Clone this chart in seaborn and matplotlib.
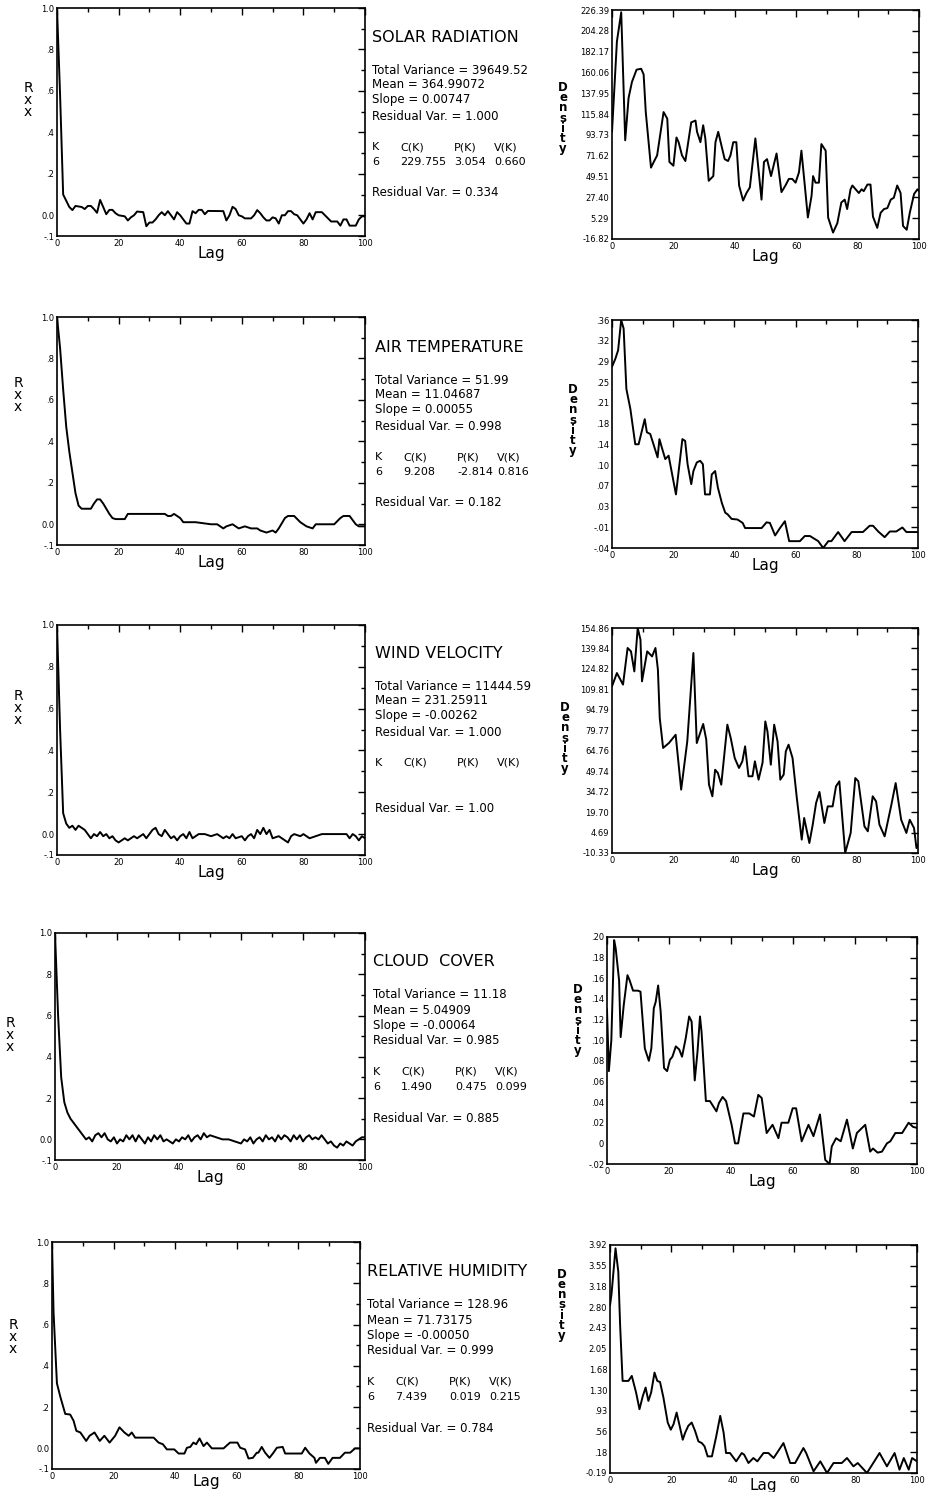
import matplotlib
matplotlib.use("Agg")
import matplotlib.pyplot as plt
from matplotlib.ticker import MultipleLocator, FixedLocator
import seaborn as sns
import pandas as pd
import numpy as np

W, H = 927, 1492

# ---- values: (lag, value) ----
solar_acf = [(0, 1.0), (1, 0.58), (2, 0.10), (3, 0.07), (4, 0.04), (5, 0.025), (6, 0.045), (8, 0.04),
             (9, 0.03), (10, 0.045), (11, 0.045), (12, 0.03), (13, 0.012), (14, 0.074), (15, 0.04),
             (16, 0.005), (17, 0.026), (18, 0.026), (19, 0.01), (20, 0.0), (22, -0.005), (23, -0.025),
             (24, -0.01), (25, 0.0), (26, 0.018), (28, 0.015), (29, -0.053), (30, -0.035), (31, -0.035),
             (32, -0.02), (33, 0.0), (34, 0.015), (35, 0.0), (36, 0.02), (37, 0.0), (38, -0.02),
             (39, 0.015), (40, 0.0), (41, -0.02), (42, -0.04), (43, -0.04), (44, 0.02), (45, 0.01),
             (46, 0.026), (47, 0.026), (48, 0.005), (49, 0.021), (54, 0.02), (55, -0.025), (56, 0.0),
             (57, 0.041), (58, 0.03), (59, 0.0), (60, -0.005), (61, -0.015), (63, -0.015), (64, 0.0),
             (65, 0.025), (66, 0.01), (67, -0.01), (68, -0.025), (69, -0.025), (70, -0.01), (71, -0.015),
             (72, -0.04), (73, 0.0), (74, 0.0), (75, 0.02), (76, 0.02), (77, 0.005), (78, 0.0),
             (79, -0.02), (80, -0.04), (81, -0.02), (82, 0.01), (83, -0.02), (84, 0.015), (86, 0.015),
             (87, 0.0), (88, -0.015), (89, -0.03), (91, -0.03), (92, -0.05), (93, -0.02), (94, -0.02),
             (95, -0.05), (97, -0.05), (98, -0.02), (99, -0.005), (100, -0.005)]

solar_dens = [(0, 97), (1.6, 193), (3, 224), (4.3, 88), (5.4, 133), (6.5, 150), (8, 163), (9.5, 164),
              (10.3, 158), (11, 118), (12.7, 59), (13.6, 65), (14.7, 72), (16.8, 118), (18, 111),
              (18.7, 65), (20, 61), (21, 91), (21.7, 86), (22.8, 72), (23.9, 66), (25.8, 107),
              (27.2, 109), (27.7, 97), (28.8, 86), (29.7, 104), (30.4, 90), (31.5, 45), (33, 50),
              (33.7, 86), (34.6, 97), (35.9, 79), (36.7, 68), (37.8, 66), (38.6, 72), (39.5, 86),
              (40.5, 86), (41.4, 40), (42.7, 24), (43.8, 32), (44.9, 38), (46.7, 90), (48.7, 25),
              (49.5, 65), (50.5, 68), (51.8, 50), (53.6, 74), (55.2, 33), (56.5, 40), (57.6, 47),
              (58.7, 47), (59.8, 43), (60.9, 54), (61.7, 77), (62.8, 40), (63.8, 6), (65, 29),
              (65.5, 50), (66.3, 43), (67.4, 43), (68.2, 84), (69.6, 77), (70.4, 6), (72, -10),
              (73.4, 0), (74.7, 22), (75.8, 25), (76.6, 15), (77.7, 36), (78.3, 40), (80.4, 32),
              (81.3, 36), (82, 34), (83.2, 41), (84.2, 41), (85, 7), (86.4, -5), (87.5, 11),
              (88.6, 15), (89.7, 16), (90.8, 25), (91.8, 27), (92.9, 40), (94, 32), (94.8, -3),
              (96, -7), (97, 11), (98.4, 31), (99.5, 36), (100, 34)]

air_acf = [(0, 1.0), (1, 0.85), (2, 0.65), (3, 0.47), (4, 0.35), (5, 0.25), (6, 0.15), (7, 0.09),
           (8, 0.075), (11, 0.075), (12, 0.1), (13, 0.12), (14, 0.12), (15, 0.1), (17, 0.05),
           (18, 0.03), (19, 0.025), (22, 0.025), (23, 0.05), (35, 0.05), (36, 0.04), (37, 0.04),
           (38, 0.05), (40, 0.03), (41, 0.01), (45, 0.01), (50, 0.0), (52, 0.0), (54, -0.02),
           (55, -0.01), (57, 0.0), (59, -0.02), (61, -0.01), (63, -0.02), (65, -0.02), (66, -0.03),
           (68, -0.04), (70, -0.03), (71, -0.04), (72, -0.02), (74, 0.03), (75, 0.04), (77, 0.04),
           (79, 0.01), (81, -0.01), (83, -0.02), (84, 0.0), (90, 0.0), (92, 0.03), (93, 0.04),
           (95, 0.04), (96, 0.02), (97, 0.0), (98, -0.01), (100, -0.01)]

air_dens = [(0, 0.278), (1.1, 0.292), (2, 0.307), (3, 0.36), (3.8, 0.345), (4.7, 0.239), (6, 0.204),
            (7.6, 0.142), (8.7, 0.142), (10.7, 0.186), (11.4, 0.163), (12.5, 0.16), (14.9, 0.119),
            (15.5, 0.151), (16.3, 0.136), (17.4, 0.116), (18.5, 0.122), (20.9, 0.054), (23, 0.151),
            (23.9, 0.148), (24.7, 0.107), (25.9, 0.072), (26.6, 0.095), (27.7, 0.11), (28.8, 0.113),
            (29.7, 0.107), (30.4, 0.054), (32, 0.054), (32.6, 0.089), (33.7, 0.095), (34.6, 0.066),
            (35.9, 0.039), (37, 0.022), (37.8, 0.019), (39.1, 0.011), (41, 0.01), (42.7, 0.004),
            (43.5, -0.005), (48.9, -0.005), (50.5, 0.005), (51.6, 0.004), (53.3, -0.018),
            (54.9, -0.005), (56.5, 0.007), (57.9, -0.028), (61.4, -0.028), (63, -0.019),
            (64.7, -0.019), (67.4, -0.028), (69, -0.04), (70.7, -0.028), (71.7, -0.028),
            (73.9, -0.012), (76, -0.028), (78.3, -0.012), (82, -0.012), (84.2, -0.001),
            (85.3, -0.001), (87, -0.011), (89.1, -0.021), (90.8, -0.011), (92.9, -0.011),
            (94.9, -0.004), (96.2, -0.012), (100, -0.012)]

wind_acf = [(0, 1.0), (1, 0.5), (2, 0.1), (3, 0.05), (4, 0.03), (5, 0.04), (6, 0.02), (7, 0.04),
            (8, 0.03), (9, 0.02), (10, 0.0), (11, -0.02), (12, 0.0), (13, -0.01), (14, 0.01),
            (15, -0.01), (16, 0.0), (17, -0.02), (18, -0.01), (19, -0.03), (20, -0.04), (21, -0.03),
            (22, -0.02), (23, -0.03), (24, -0.02), (25, -0.01), (26, -0.02), (27, -0.01), (28, 0.0),
            (29, -0.02), (30, 0.0), (31, 0.02), (32, 0.03), (33, 0.0), (34, -0.01), (35, 0.02),
            (36, 0.0), (37, -0.02), (38, -0.01), (39, -0.03), (40, -0.01), (41, 0.0), (42, -0.02),
            (43, 0.01), (44, -0.02), (45, -0.01), (46, 0.0), (48, 0.0), (50, -0.01), (52, 0.0),
            (54, -0.02), (55, -0.01), (56, -0.02), (57, 0.0), (58, -0.02), (60, -0.01), (61, -0.03),
            (62, -0.01), (63, 0.0), (64, -0.02), (65, 0.02), (66, 0.0), (67, 0.03), (68, 0.0),
            (69, 0.02), (70, -0.02), (72, -0.01), (74, -0.03), (75, -0.04), (76, -0.01), (77, 0.0),
            (79, -0.01), (80, 0.0), (82, -0.02), (84, -0.01), (86, 0.0), (94, 0.0), (95, -0.02),
            (96, 0.0), (97, -0.01), (98, -0.03), (99, -0.01), (100, -0.02)]

wind_dens = [(0, 112), (1.6, 121.8), (3.6, 113.3), (5.1, 140.2), (6.2, 137.7), (7.3, 123), (8.4, 154.9),
             (9.3, 146.3), (9.8, 115.7), (11.5, 137.7), (13.1, 134), (14.2, 140.2), (15, 124.3),
             (15.6, 88.8), (16.7, 66.8), (18.6, 70.4), (20.8, 76.5), (22.6, 36.2), (24.6, 71.6),
             (26.6, 136.5), (27.7, 70.4), (29.8, 84.4), (30.8, 72.9), (31.7, 39.8), (32.8, 31.3),
             (33.7, 50.8), (34.6, 48.4), (35.7, 39.8), (37.7, 83.9), (38.8, 74.1), (40.1, 59.4),
             (41.5, 52.1), (42.6, 57), (43.5, 68), (44.6, 46), (45.9, 46), (46.7, 57), (47.9, 43.5),
             (49.2, 56), (50.1, 86.3), (50.8, 79), (51.9, 54.5), (53, 83.9), (54.1, 71.6), (55, 43.5),
             (56.1, 47.2), (56.8, 64.3), (57.7, 69.2), (59, 59.4), (60.4, 30), (62, -0.5), (62.8, 15.4),
             (64.5, -3), (65.6, 10.5), (66.7, 26.4), (67.8, 34.5), (69.4, 11.7), (70.5, 23.9),
             (72.1, 23.9), (73.2, 38.6), (74.3, 42.3), (76.2, -10.3), (78, 4.4), (79.5, 44.7),
             (80.5, 42.3), (82.5, 9.2), (83.6, 5.6), (85.2, 31.3), (86.3, 27.6), (87.4, 10.5),
             (89.1, 1.9), (91.3, 25.1), (92.7, 41), (94.5, 14.1), (96.2, 4.4), (97.3, 14.1),
             (98.7, 8), (99.5, -6.7), (100, -4.2)]

cloud_acf = [(0, 1.0), (1, 0.6), (2, 0.3), (3, 0.18), (4, 0.13), (5, 0.1), (6, 0.08), (7, 0.06),
             (8, 0.04), (9, 0.02), (10, 0.0), (11, 0.01), (12, -0.01), (13, 0.02), (14, 0.03),
             (15, 0.01), (16, 0.03), (17, 0.0), (18, -0.01), (19, 0.01), (20, -0.02), (21, 0.0),
             (22, -0.01), (23, 0.02), (24, 0.0), (25, 0.02), (26, -0.01), (27, 0.02), (28, 0.0),
             (29, -0.02), (30, 0.01), (31, -0.01), (32, 0.02), (33, 0.0), (34, 0.02), (35, -0.01),
             (36, 0.0), (38, -0.02), (39, 0.0), (40, -0.01), (41, 0.01), (42, 0.0), (43, 0.02),
             (44, -0.01), (45, 0.01), (46, 0.02), (47, 0.0), (48, 0.03), (49, 0.01), (50, 0.02),
             (52, 0.01), (54, 0.0), (56, 0.0), (58, -0.01), (60, -0.02), (61, 0.0), (62, -0.01),
             (63, 0.01), (64, -0.02), (65, 0.0), (66, 0.01), (67, -0.01), (68, 0.02), (69, 0.0),
             (70, 0.01), (71, -0.01), (72, 0.02), (73, 0.0), (74, 0.02), (75, 0.01), (76, -0.01),
             (77, 0.02), (78, 0.0), (79, 0.02), (80, -0.01), (81, 0.01), (82, 0.02), (83, 0.0),
             (84, 0.01), (85, 0.0), (86, 0.02), (87, 0.0), (88, -0.02), (89, -0.01), (90, -0.03),
             (91, -0.04), (92, -0.02), (93, -0.03), (94, -0.01), (95, -0.02), (96, -0.03),
             (97, -0.01), (98, 0.0), (99, 0.01), (100, 0.01)]

cloud_dens = [(0, 0.13), (0.6, 0.07), (1.4, 0.10), (2.3, 0.197), (2.8, 0.189), (3.9, 0.158),
              (4.4, 0.103), (5.4, 0.134), (6.6, 0.163), (7.3, 0.158), (8.4, 0.148), (10, 0.148),
              (10.8, 0.147), (12.2, 0.092), (13.5, 0.08), (14.3, 0.092), (15.1, 0.131), (15.7, 0.137),
              (16.5, 0.153), (17.3, 0.128), (18.4, 0.073), (19.4, 0.07), (20.3, 0.081), (21.1, 0.084),
              (22.2, 0.094), (23.3, 0.091), (24.2, 0.084), (25.4, 0.102), (26.5, 0.123), (27.3, 0.118),
              (28.3, 0.061), (29.2, 0.089), (30, 0.123), (30.5, 0.108), (31.9, 0.041), (33.2, 0.041),
              (35.3, 0.031), (36.1, 0.039), (37.3, 0.045), (38.4, 0.041), (40.2, 0.018), (41.3, 0.0),
              (42.3, 0.0), (44, 0.029), (45.9, 0.029), (47.4, 0.026), (48.8, 0.047), (49.9, 0.044),
              (51.5, 0.01), (53.4, 0.018), (55.3, 0.005), (56.3, 0.02), (58.5, 0.02), (59.9, 0.034),
              (61, 0.034), (62.8, 0.002), (65, 0.018), (66.6, 0.007), (68.7, 0.028), (70.4, -0.016),
              (71.8, -0.02), (72.5, -0.003), (73.9, 0.005), (75.4, 0.002), (77.4, 0.023),
              (79.3, -0.005), (80.6, 0.01), (83.3, 0.018), (84.9, -0.008), (85.8, -0.005),
              (87.3, -0.009), (88.7, -0.008), (90.3, 0.0), (91.4, 0.002), (93, 0.01), (95.2, 0.01),
              (97.3, 0.02), (98.7, 0.016), (100, 0.015)]

rh_acf = [(0, 1.0), (0.5, 0.66), (1.6, 0.315), (2.7, 0.25), (4.3, 0.167), (5.9, 0.164), (7, 0.134),
          (7.9, 0.085), (9.2, 0.077), (11.1, 0.036), (12.2, 0.061), (13.8, 0.077), (15.5, 0.036),
          (17, 0.061), (18.7, 0.028), (20.5, 0.061), (21.9, 0.102), (23.5, 0.077), (24.9, 0.061),
          (25.9, 0.077), (27, 0.052), (33, 0.052), (34.6, 0.028), (36, 0.02), (37.3, -0.005),
          (39.7, -0.005), (41.1, -0.025), (43, -0.025), (43.8, 0.003), (44.9, 0.007), (45.9, 0.028),
          (46.8, 0.02), (47.9, 0.048), (49.2, 0.011), (50.3, 0.028), (51.9, 0.0), (55.7, 0.0),
          (57.8, 0.028), (60.2, 0.028), (61.1, 0.003), (62.7, -0.005), (63.8, -0.049), (65.2, -0.046),
          (66.5, -0.021), (67, -0.021), (68.1, 0.007), (69.2, -0.021), (70.6, -0.046), (71.9, -0.021),
          (73, 0.003), (74.9, 0.007), (75.7, -0.025), (81.1, -0.025), (82.2, 0.003), (83.6, -0.025),
          (85.2, -0.046), (85.7, -0.07), (87, -0.046), (88.6, -0.046), (89.7, -0.075), (91.1, -0.046),
          (93.5, -0.046), (95.1, -0.021), (96.8, -0.021), (98.4, 0.0), (100, 0.0)]

rh_dens = [(0, 2.83), (0.5, 3.04), (1.8, 3.86), (2.7, 3.44), (3.3, 2.47), (4.1, 1.47), (6, 1.47),
           (7.1, 1.56), (8.5, 1.26), (9.6, 0.96), (10.7, 1.2), (11.6, 1.35), (12.5, 1.11), (13.4, 1.26),
           (14.5, 1.62), (15.4, 1.47), (16.3, 1.45), (17.4, 1.17), (18.8, 0.72), (19.8, 0.59),
           (20.7, 0.69), (21.7, 0.9), (23.7, 0.41), (24.5, 0.54), (25.5, 0.66), (26.6, 0.72),
           (27.7, 0.57), (28.8, 0.38), (29.9, 0.35), (30.8, 0.29), (31.8, 0.11), (33.2, 0.11),
           (34.6, 0.47), (35.9, 0.84), (37, 0.54), (37.8, 0.17), (39.1, 0.17), (41.1, 0.02),
           (42.9, 0.17), (43.7, 0.14), (45.1, -0.01), (46.7, 0.08), (48, 0.02), (50, 0.17),
           (51.6, 0.17), (53.3, 0.08), (56.5, 0.35), (58.7, -0.01), (60.3, -0.01), (63, 0.26),
           (63.9, 0.17), (66.3, -0.16), (68.5, 0.02), (70.7, -0.19), (72.8, -0.01), (75.5, -0.01),
           (77.2, 0.08), (79.3, -0.07), (80.7, -0.01), (83.7, -0.19), (87.8, 0.17), (90.2, -0.07),
           (92.7, 0.17), (94.3, -0.13), (95.7, 0.08), (97.3, -0.13), (98.4, 0.08), (100, 0.02)]

# density axis tick labels as printed
solar_ticks = ["226.39", "204.28", "182.17", "160.06", "137.95", "115.84", "93.73", "71.62",
               "49.51", "27.40", "5.29", "-16.82"]
air_ticks = [".36", ".32", ".29", ".25", ".21", ".18", ".14", ".10", ".07", ".03", "-.01", "-.04"]
wind_ticks = ["154.86", "139.84", "124.82", "109.81", "94.79", "79.77", "64.76", "49.74",
              "34.72", "19.70", "4.69", "-10.33"]
cloud_ticks = [".20", ".18", ".16", ".14", ".12", ".10", ".08", ".06", ".04", ".02", "0", "-.02"]
rh_ticks = ["3.92", "3.55", "3.18", "2.80", "2.43", "2.05", "1.68", "1.30", ".93", ".56", ".18", "-0.19"]
dens_limits = [(-16.82, 226.39), (-0.04, 0.36), (-10.33, 154.86), (-0.02, 0.20), (-0.19, 3.92)]

# statistics printed between the panels
names = ["Solar Radiation", "Air Temperature", "Wind Velocity", "Cloud  Cover", "Relative Humidity"]
total_var = ["39649.52", "51.99", "11444.59", "11.18", "128.96"]
means = ["364.99072", "11.04687", "231.25911", "5.04909", "71.73175"]
slopes = ["0.00747", "0.00055", "-0.00262", "-0.00064", "-0.00050"]
resid_var = ["1.000", "0.998", "1.000", "0.985", "0.999"]
k_vals = ["6", "6", "", "6", "6"]
c_vals = ["229.755", "9.208", "", "1.490", "7.439"]
p_vals = ["3.054", "-2.814", "", "0.475", "0.019"]
v_vals = ["0.660", "0.816", "", "0.099", "0.215"]
resid_var2 = ["0.334", "0.182", "1.00", "0.885", "0.784"]

acfs = [solar_acf, air_acf, wind_acf, cloud_acf, rh_acf]
dens = [solar_dens, air_dens, wind_dens, cloud_dens, rh_dens]
dens_ticks = [solar_ticks, air_ticks, wind_ticks, cloud_ticks, rh_ticks]

# layout in pixels (left, top, right, bottom)
left_box = [(57, 8, 365, 236), (57, 317, 365, 545), (57, 625, 365, 855), (55, 933, 365, 1160), (52, 1242, 360, 1469)]
right_box = [(612, 10, 919, 239), (612, 320, 918, 548), (612, 628, 918, 853), (607, 937, 917, 1164), (610, 1245, 917, 1473)]
title_y = [37, 347, 653, 962, 1272]
block_x = [372, 375, 375, 373, 367]
rxx_pos = [(28, 100), (18, 395), (18, 708), (10, 1035), (13, 1337)]
dens_lab_pos = [(563, 118), (573, 420), (565, 738), (578, 1020), (562, 1305)]
lag_pad = [-1, -1, -1, -1, -5]

sns.set_style("white")
plt.rcParams['font.family'] = ['DejaVu Sans']
plt.rcParams['text.color'] = 'black'
plt.rcParams['axes.labelcolor'] = 'black'
fig = plt.figure(figsize=(W / 100, H / 100), dpi=100)


def add_ax(box):
    l, t, r, b = box
    return fig.add_axes([l / W, 1 - b / H, (r - l) / W, (b - t) / H])


def put(x, y, s, size, **kw):
    fig.text(x / W, 1 - y / H, s, fontsize=size, va='center', ha=kw.pop('ha', 'left'),
             color='black', **kw)


def style(ax, pad):
    ax.set_xlim(0, 100)
    ax.xaxis.set_major_locator(MultipleLocator(20))
    ax.xaxis.set_minor_locator(MultipleLocator(10))
    ax.tick_params(which='both', direction='in', top=True, right=True, labelsize=6, width=1,
                   colors='black', pad=2)
    ax.tick_params(which='major', length=5)
    ax.tick_params(which='minor', length=3)
    for s in ax.spines.values():
        s.set_linewidth(1.2)
        s.set_color('black')
    ax.set_xlabel("Lag", fontsize=11, labelpad=pad, color='black')
    ax.set_ylabel("")


for i in range(5):
    # autocorrelation panel
    ax = add_ax(left_box[i])
    df = pd.DataFrame(acfs[i], columns=["lag", "rxx"])
    sns.lineplot(data=df, x="lag", y="rxx", ax=ax, color="black", linewidth=1.4, estimator=None, sort=False)
    style(ax, lag_pad[i])
    ax.set_ylim(-0.1, 1.0)
    ax.yaxis.set_major_locator(FixedLocator([1.0, 0.8, 0.6, 0.4, 0.2, 0.0, -0.1]))
    ax.yaxis.set_minor_locator(MultipleLocator(0.1))
    ax.set_yticklabels(["1.0", ".8", ".6", ".4", ".2", "0.0", "-.1"])
    put(rxx_pos[i][0], rxx_pos[i][1], "R\nx\nx", 10, ha='center', linespacing=0.85)

    # density panel
    ax2 = add_ax(right_box[i])
    df2 = pd.DataFrame(dens[i], columns=["lag", "density"])
    sns.lineplot(data=df2, x="lag", y="density", ax=ax2, color="black", linewidth=1.4, estimator=None, sort=False)
    style(ax2, lag_pad[i])
    lo, hi = dens_limits[i]
    ax2.set_ylim(lo, hi)
    ax2.yaxis.set_major_locator(FixedLocator(np.linspace(hi, lo, 12)))
    ax2.set_yticklabels(dens_ticks[i])
    put(dens_lab_pos[i][0], dens_lab_pos[i][1], "D\ne\nn\ns\ni\nt\ny", 8.5, ha='center',
        linespacing=0.72, fontweight='bold')

    # statistics block
    x0, y0 = block_x[i], title_y[i]
    put(x0, y0, names[i].upper(), 11.5)
    put(x0, y0 + 33, f"Total Variance = {total_var[i]}", 8.5)
    put(x0, y0 + 48, f"Mean = {means[i]}", 8.5)
    put(x0, y0 + 63, f"Slope = {slopes[i]}", 8.5)
    put(x0, y0 + 79, f"Residual Var. = {resid_var[i]}", 8.5)
    cols = [0, 28, 82, 122]
    for c, h in zip(cols, ["K", "C(K)", "P(K)", "V(K)"]):
        put(x0 + c, y0 + 110, h, 8)
    for c, v in zip(cols, [k_vals[i], c_vals[i], p_vals[i], v_vals[i]]):
        if v:
            put(x0 + c, y0 + 125, v, 8)
    put(x0, y0 + 156, f"Residual Var. = {resid_var2[i]}", 8.5)

fig.savefig("out.png", dpi=100, facecolor="white")
